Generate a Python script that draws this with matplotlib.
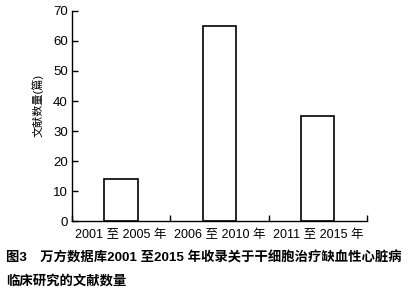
import numpy as np
import matplotlib
matplotlib.use("Agg")
import matplotlib.pyplot as plt

plt.rcParams["font.family"] = ["Liberation Sans", "Noto Sans CJK SC", "DejaVu Sans"]

periods = ["2001 至 2005 年", "2006 至 2010 年", "2011 至 2015 年"]
counts = [14, 65, 35]
y_ticks = [0, 10, 20, 30, 40, 50, 60, 70]

fig = plt.figure(figsize=(4.16, 2.96), dpi=100)
ax = fig.add_axes([0.173, 0.253, 0.709, 0.71])

x = np.arange(len(periods))
ax.bar(x, counts, width=0.34, facecolor="white", edgecolor="black", linewidth=1.2)

ax.set_xlim(-0.5, len(periods) - 0.5)
ax.set_ylim(0, 70)
ax.set_yticks(y_ticks)
ax.set_xticks(x)
ax.set_xticklabels(periods, fontsize=9)
ax.set_xticks(np.arange(len(periods) + 1) - 0.5, minor=True)
ax.tick_params(axis="x", which="major", length=0, pad=6)
ax.tick_params(axis="x", which="minor", direction="in", length=4, width=1)
ax.tick_params(axis="y", direction="in", length=4, width=1, labelsize=9.5, pad=3)
for s in ["top", "right"]:
    ax.spines[s].set_visible(False)
for s in ["left", "bottom"]:
    ax.spines[s].set_linewidth(1)
ax.set_ylabel("文献数量(篇)", fontsize=8)
ax.yaxis.set_label_coords(-0.095, 0.55)

fig.text(0.014, 0.128, "图3　万方数据库2001 至2015 年收录关于干细胞治疗缺血性心脏病",
         fontsize=9.6, fontweight="bold", va="center", ha="left")
fig.text(0.014, 0.05, "临床研究的文献数量",
         fontsize=9.6, fontweight="bold", va="center", ha="left")

fig.savefig("out.png", dpi=100)
